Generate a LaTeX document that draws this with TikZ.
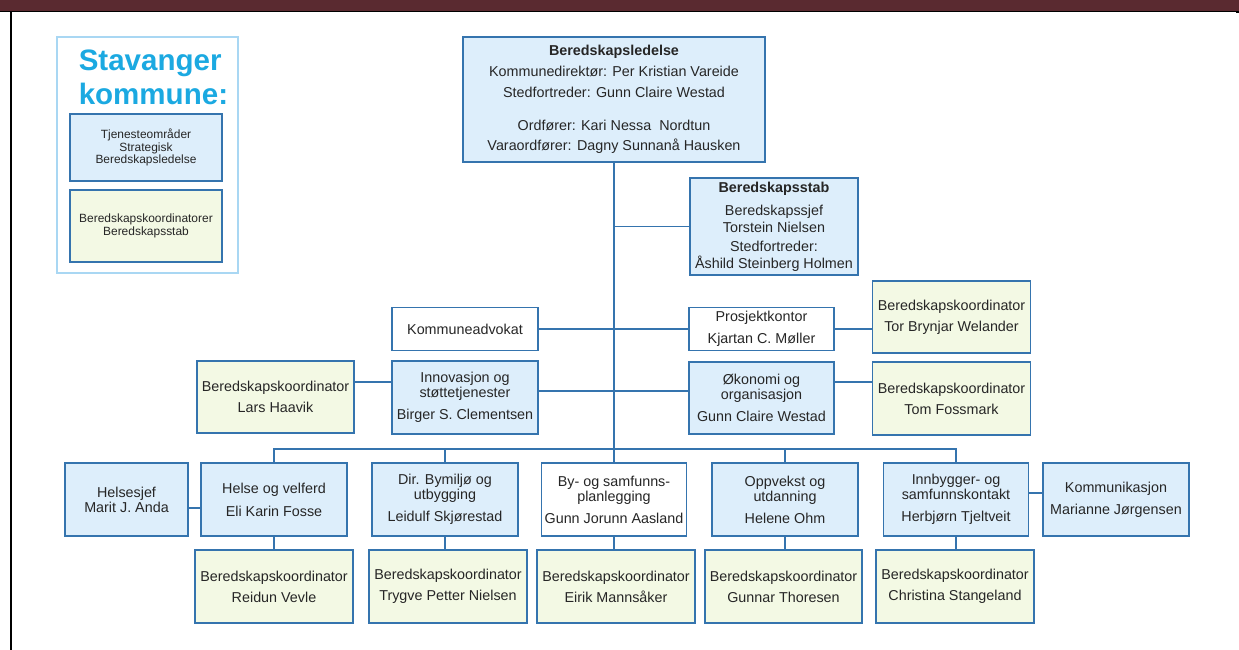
\documentclass[tikz,border=0pt]{standalone}
\usepackage{fontspec}
\setmainfont{Liberation Sans}
\usepackage{tikz}
\usetikzlibrary{positioning}
\definecolor{edgeblue}{HTML}{3574AE}
\definecolor{unitfill}{HTML}{DDEEFB}
\definecolor{coordfill}{HTML}{F3F9E4}
\definecolor{textgrey}{HTML}{262626}
\definecolor{brandcyan}{HTML}{1BA9E1}
\definecolor{framecyan}{HTML}{A9D7F3}
\definecolor{topbar}{HTML}{5A2A30}
\tikzset{
  boxsize/.style 2 args={minimum width=#1*0.025cm, minimum height=#2*0.025cm},
  unitbox/.style={draw=edgeblue, line width=1.1pt, fill=unitfill, text=textgrey, align=center, inner sep=0pt, font=\fontsize{10.2}{10.7}\selectfont},
  plainbox/.style={unitbox, fill=white},
  coordbox/.style={unitbox, fill=coordfill},
  orgline/.style={draw=edgeblue, line width=1.1pt},
  legendframe/.style={draw=framecyan, line width=1.2pt, inner sep=0pt},
  legendtitle/.style={text=brandcyan, font=\fontsize{21}{24}\selectfont\bfseries, align=left, inner sep=0pt},
  legendbox/.style={font=\fontsize{8.5}{8.9}\selectfont}
}

\begin{document}
\begin{tikzpicture}[x=0.025cm, y=-0.025cm]
  \useasboundingbox (0,0) rectangle (1239,650);
  \fill[topbar] (0,0) rectangle (1239,11);
  \fill[black] (0,11) rectangle (1239,12.2);
  \fill[black] (9.5,11) rectangle (12,650);
  \fill[black] (1236,11) rectangle (1239,13);

  \node[legendframe, boxsize={181}{236}] (legend) at (147.5,155) {};
  \node[legendtitle, anchor=west] (title) at (78.5,77) {Stavanger\\kommune:};
  \node[unitbox, legendbox, boxsize={152}{67}] (legendunit) at (146,147.5) {Tjenesteområder\\ Strategisk\\ Beredskapsledelse};
  \node[coordbox, legendbox, boxsize={152}{72}] (legendcoord) at (146,226) {Beredskapskoordinatorer\\ Beredskapsstab};

  \node[unitbox, boxsize={302}{125}] (ledelse) at (614,99.5) {\textbf{Beredskapsledelse}\\[4.3pt] Kommunedirektør: Per Kristian Vareide\\[4.3pt] Stedfortreder: Gunn Claire Westad\\[12.8pt] Ordfører: Kari Nessa~ Nordtun\\[3.6pt] Varaordfører: Dagny Sunnanå Hausken};
  \node[unitbox, boxsize={168}{97}] (stab) at (774,226.5) {\textbf{Beredskapsstab}\\[5.7pt] Beredskapssjef\\[1.4pt] Torstein Nielsen\\[2.8pt] Stedfortreder:\\[1.4pt] Åshild Steinberg Holmen};

  \node[plainbox, boxsize={146}{43}] (advokat) at (465,329) {Kommuneadvokat};
  \node[plainbox, boxsize={145}{43}] (prosjekt) at (761.5,329) {Prosjektkontor\\[5pt] Kjartan C. Møller};
  \node[coordbox, boxsize={158}{72}] (tor) at (951.5,317) {Beredskapskoordinator\\[4.3pt] Tor Brynjar Welander};
  \node[coordbox, boxsize={157}{72}] (lars) at (275.5,397) {Beredskapskoordinator\\[4.3pt] Lars Haavik};
  \node[unitbox, boxsize={146}{73}] (innov) at (465,397.5) {Innovasjon og\\ støttetjenester\\[5pt] Birger S. Clementsen};
  \node[unitbox, boxsize={145}{72}] (okon) at (761.5,398) {Økonomi og\\ organisasjon\\[5pt] Gunn Claire Westad};
  \node[coordbox, boxsize={158}{73}] (tom) at (951.5,398.5) {Beredskapskoordinator\\[4.3pt] Tom Fossmark};

  \node[unitbox, boxsize={123}{73}] (helsesjef) at (126.5,499.5) {Helsesjef\\ Marit J. Anda};
  \node[unitbox, boxsize={146}{73}] (helse) at (274,499.5) {Helse og velferd\\[5.7pt] Eli Karin Fosse};
  \node[unitbox, boxsize={146}{73}] (dir) at (445,499.5) {Dir. Bymiljø og\\ utbygging\\[5pt] Leidulf Skjørestad};
  \node[plainbox, boxsize={145}{73}] (byplan) at (614,499.5) {By- og samfunns-\\ planlegging\\[5pt] Gunn Jorunn Aasland};
  \node[unitbox, boxsize={146}{73}] (oppvekst) at (785,499.5) {Oppvekst og\\ utdanning\\[5pt] Helene Ohm};
  \node[unitbox, boxsize={145}{73}] (innb) at (956,499.5) {Innbygger- og\\ samfunnskontakt\\[5pt] Herbjørn Tjeltveit};
  \node[unitbox, boxsize={146}{73}] (komm) at (1116,499.5) {Kommunikasjon\\[5pt] Marianne Jørgensen};

  \node[coordbox, boxsize={158}{73}] (reidun) at (274,586.5) {Beredskapskoordinator\\[4.3pt] Reidun Vevle};
  \node[coordbox, boxsize={158}{73}] (trygve) at (448,586.5) {Beredskapskoordinator\\[4.3pt] Trygve Petter Nielsen};
  \node[coordbox, boxsize={158}{73}] (eirik) at (616,586.5) {Beredskapskoordinator\\[4.3pt] Eirik Mannsåker};
  \node[coordbox, boxsize={157}{73}] (gunnar) at (783.5,586.5) {Beredskapskoordinator\\[4.3pt] Gunnar Thoresen};
  \node[coordbox, boxsize={158}{73}] (christina) at (955,586.5) {Beredskapskoordinator\\[4.3pt] Christina Stangeland};

  \coordinate (bar) at (614,449);
  \coordinate (innovout) at ([yshift=0.1625cm]innov.east);
  \coordinate (larsout) at ([yshift=0.375cm]lars.east);
  \coordinate (okonout) at ([yshift=0.4cm]okon.east);
  \coordinate (helsesjefout) at ([yshift=-0.2125cm]helsesjef.east);
  \coordinate (innbout) at ([yshift=0.1625cm]innb.east);

  \draw[orgline] (ledelse.south) -- (ledelse.south |- byplan.north);
  \draw[orgline] (stab.west) -- (stab.west -| ledelse.south);
  \draw[orgline] (advokat.east) -- (prosjekt.west);
  \draw[orgline] (prosjekt.east) -- (prosjekt.east -| tor.west);
  \draw[orgline] (innovout) -- (innovout -| okon.west);
  \draw[orgline] (larsout) -- (larsout -| innov.west);
  \draw[orgline] (okonout) -- (okonout -| tom.west);
  \draw[orgline] (helse.north) |- (bar) -| (innb.north);
  \draw[orgline] (dir.north) -- (dir.north |- bar);
  \draw[orgline] (oppvekst.north) -- (oppvekst.north |- bar);
  \draw[orgline] (helsesjefout) -- (helsesjefout -| helse.west);
  \draw[orgline] (innbout) -- (innbout -| komm.west);
  \draw[orgline] (helse.south) -- (helse.south |- reidun.north);
  \draw[orgline] (dir.south) -- (dir.south |- trygve.north);
  \draw[orgline] (byplan.south) -- (byplan.south |- eirik.north);
  \draw[orgline] (oppvekst.south) -- (oppvekst.south |- gunnar.north);
  \draw[orgline] (innb.south) -- (innb.south |- christina.north);
\end{tikzpicture}
\end{document}
